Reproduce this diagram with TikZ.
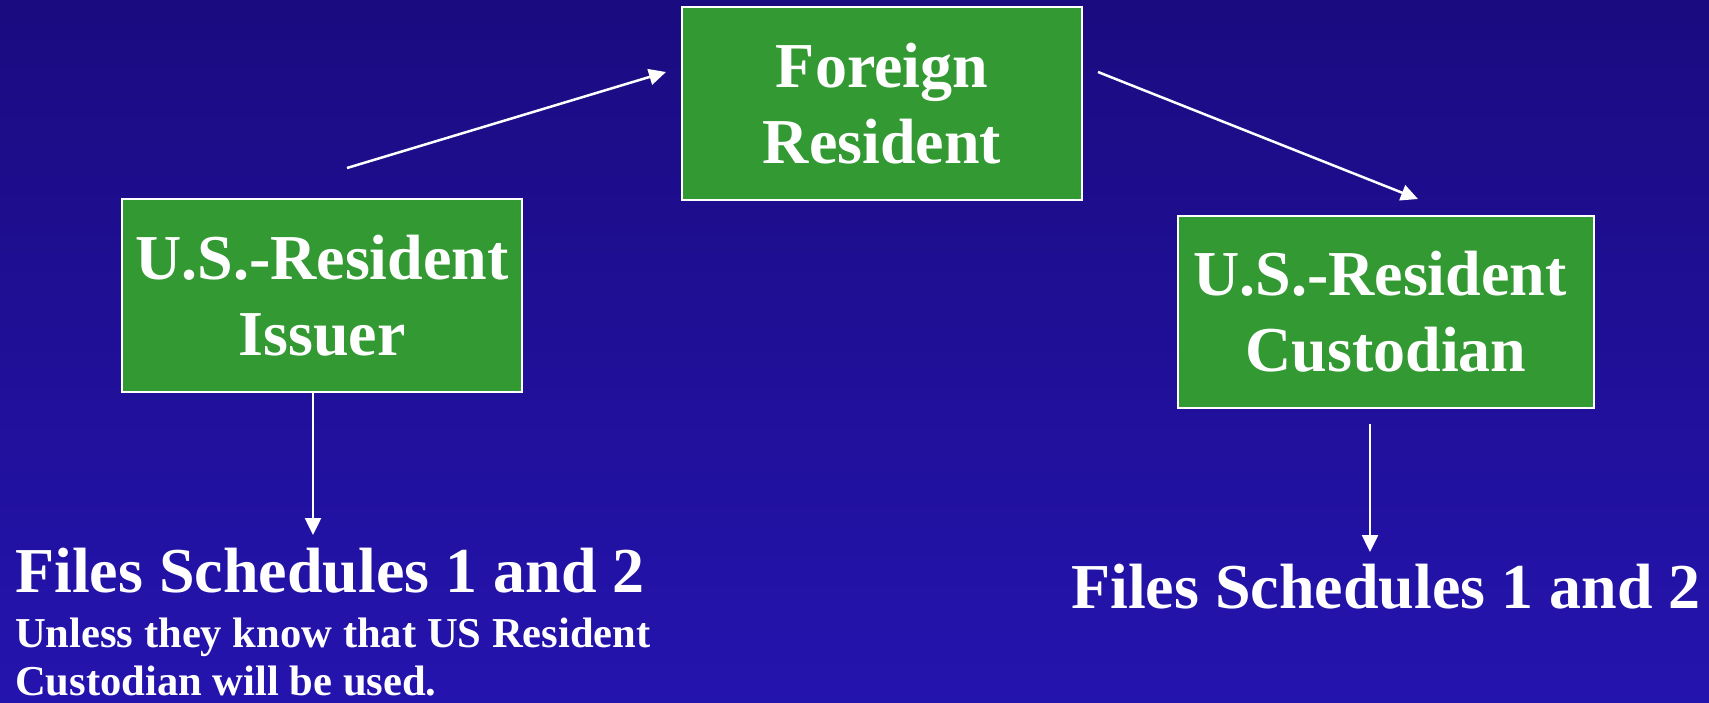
\documentclass[tikz,border=0pt]{standalone}
\usepackage{fontspec}
\setmainfont{Liberation Serif}
\usetikzlibrary{arrows.meta}
\definecolor{bgtop}{HTML}{1B0B80}
\definecolor{bgbot}{HTML}{2414AE}
\definecolor{boxgreen}{HTML}{339933}
\tikzset{
  greenbox/.style={draw=white, line width=2.5pt, fill=boxgreen, text=white,
    align=center, inner sep=0pt, font=\bfseries\fontsize{64}{76}\selectfont},
  bigtext/.style={text=white, inner sep=0pt, anchor=base west,
    font=\bfseries\fontsize{64}{76}\selectfont},
  smalltext/.style={text=white, inner sep=0pt, anchor=base west,
    font=\bfseries\fontsize{42.6}{50}\selectfont},
  conn/.style={draw=white, line width=2.5pt,
    -{Triangle[length=17pt,width=16pt]}}
}
\begin{document}
\begin{tikzpicture}[x=1pt,y=-1pt]
  \shade[top color=bgtop, bottom color=bgbot] (0,0) rectangle (1709,702);
  \useasboundingbox (0,0) rectangle (1709,702);

  \node[greenbox, minimum width=400pt, minimum height=193pt] (foreign) at (882,103.5) {Foreign\\Resident};
  \node[greenbox, minimum width=400pt, minimum height=193pt] (issuer) at (322,295.5) {U.S.-Resident\\Issuer};
  \node[greenbox, minimum width=416pt, minimum height=192pt] (custodian) at (1386,312) {\hspace*{-12pt}U.S.-Resident\\Custodian};

  \node[bigtext] (filesL) at (15,592) {Files Schedules 1 and 2};
  \node[smalltext] (unless1) at (15,647) {Unless they know that US Resident};
  \node[smalltext] (unless2) at (15,695) {Custodian will be used.};
  \node[bigtext] (filesR) at (1071,608) {Files Schedules 1 and 2};

  \coordinate (s1) at (347,168);
  \coordinate (e1) at (666,72);
  \coordinate (s2) at (1098,72);
  \coordinate (e2) at (1418,199);
  \coordinate (e3) at (313,535);
  \coordinate (s4) at (1370,424);
  \coordinate (e4) at (1370,552);

  \draw[conn] (s1) -- (e1);
  \draw[conn] (s2) -- (e2);
  \draw[conn] (issuer.south -| e3) -- (e3);
  \draw[conn] (s4) -- (e4);
\end{tikzpicture}
\end{document}
